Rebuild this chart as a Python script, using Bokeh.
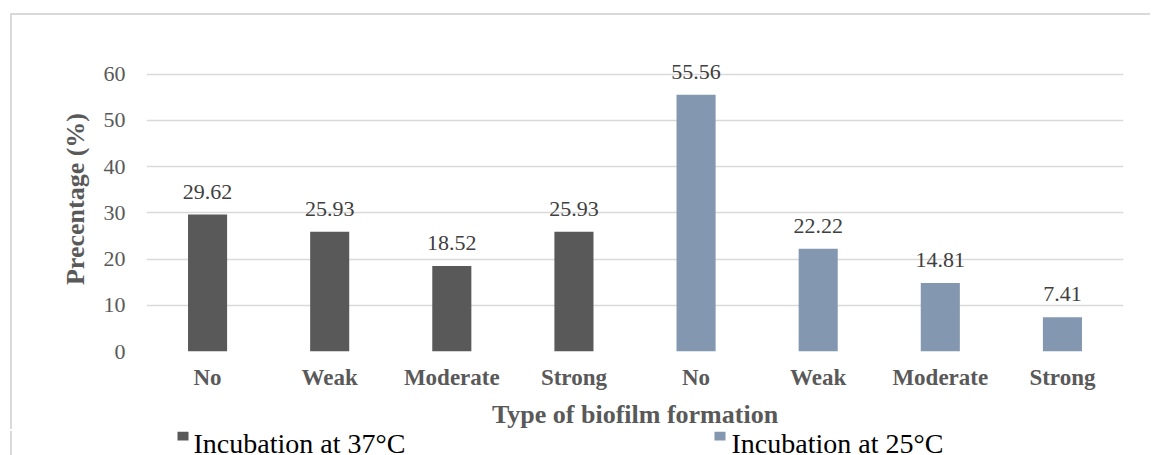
from bokeh.plotting import figure
from bokeh.layouts import column
from bokeh.models import Range1d, FixedTicker, ColumnDataSource
from bokeh.core.properties import value
from bokeh.embed import file_html
from bokeh.resources import INLINE

# ---- data ----
types = ["No", "Weak", "Moderate", "Strong"]
pct_37 = [29.62, 25.93, 18.52, 25.93]
pct_25 = [55.56, 22.22, 14.81, 7.41]
series_names = ["Incubation at 37\u00b0C", "Incubation at 25\u00b0C"]
y_ticks = [0, 10, 20, 30, 40, 50, 60]

C37 = "#595959"
C25 = "#8497b0"
FONT = "Liberation Serif"

# ---- layout constants (pixels) ----
W = 1140
H_MAIN = 416
H_LEG = 24
B_LEFT = 134
B_RIGHT = 29
FRAME_X0 = 146   # page x of the plot frame's left edge
FRAME_X1 = 1123  # page x of the plot frame's right edge
LEG_SQ_X = [182.5, 719.5]
LEG_TXT_X = [193, 731]

n = len(types)
x37 = [i + 0.5 for i in range(n)]
x25 = [n + i + 0.5 for i in range(n)]

p = figure(width=W, height=H_MAIN, output_backend="svg", toolbar_location=None,
           x_range=Range1d(0, 2 * n), y_range=Range1d(0, 66),
           min_border_left=B_LEFT, min_border_right=B_RIGHT, min_border_top=31, min_border_bottom=78)
p.margin = (15, 0, 0, 12)
p.styles = {"box-shadow": "-2px -2px 0 0 #d9d9d9"}
p.outline_line_color = None
p.background_fill_color = "white"
p.border_fill_color = "white"

src37 = ColumnDataSource(dict(x=x37, y=pct_37, lab=[f"{v:.2f}" for v in pct_37]))
src25 = ColumnDataSource(dict(x=x25, y=pct_25, lab=[f"{v:.2f}" for v in pct_25]))

p.vbar(x="x", top="y", width=0.32, bottom=0, source=src37, fill_color=C37, line_color=None)
p.vbar(x="x", top="y", width=0.32, bottom=0, source=src25, fill_color=C25, line_color=None)

for s in (src37, src25):
    p.text(x="x", y="y", text="lab", source=s, text_align="center", text_baseline="alphabetic",
           y_offset=-23, text_font=value(FONT), text_font_size="22px", text_color="#404040")

# axes
p.yaxis.ticker = FixedTicker(ticks=y_ticks)
p.yaxis.axis_line_color = None
p.yaxis.major_tick_line_color = None
p.yaxis.major_tick_out = 0
p.yaxis.major_tick_in = 0
p.yaxis.minor_tick_line_color = None
p.yaxis.major_label_text_font = FONT
p.yaxis.major_label_text_font_size = "22px"
p.yaxis.major_label_text_color = "#595959"
p.yaxis.major_label_standoff = 21
p.yaxis.axis_label = "Precentage (%)"
p.yaxis.axis_label_text_font = FONT
p.yaxis.axis_label_text_font_size = "26px"
p.yaxis.axis_label_text_font_style = "bold"
p.yaxis.axis_label_text_color = "#595959"
p.yaxis.axis_label_standoff = 11

xt = x37 + x25
p.xaxis.ticker = FixedTicker(ticks=xt)
p.xaxis.major_label_overrides = {t: lab for t, lab in zip(xt, types + types)}
p.xaxis.axis_line_color = None
p.xaxis.major_tick_line_color = None
p.xaxis.major_tick_out = 0
p.xaxis.major_tick_in = 0
p.xaxis.minor_tick_line_color = None
p.xaxis.major_label_text_font = FONT
p.xaxis.major_label_text_font_size = "23px"
p.xaxis.major_label_text_font_style = "bold"
p.xaxis.major_label_text_color = "#595959"
p.xaxis.major_label_standoff = 13
p.xaxis.axis_label = "Type of biofilm formation"
p.xaxis.axis_label_text_font = FONT
p.xaxis.axis_label_text_font_size = "26px"
p.xaxis.axis_label_text_font_style = "bold"
p.xaxis.axis_label_text_color = "#595959"
p.xaxis.axis_label_standoff = 7

p.xgrid.grid_line_color = None
p.ygrid.grid_line_color = "#d9d9d9"
p.ygrid.grid_line_width = 1.5

# ---- legend strip (small figure below the chart; frame aligned with the chart's frame) ----
leg = figure(width=W, height=H_LEG, output_backend="svg", toolbar_location=None,
             x_range=Range1d(FRAME_X0, FRAME_X1), y_range=Range1d(H_LEG, 0),
             min_border_left=B_LEFT, min_border_right=B_RIGHT, min_border_top=0, min_border_bottom=0,
             x_axis_location=None, y_axis_location=None)
leg.margin = (0, 0, 0, 12)
leg.styles = {"box-shadow": "-2px 0 0 0 #d9d9d9"}
leg.outline_line_color = None
leg.xgrid.visible = False
leg.ygrid.visible = False
leg.background_fill_color = "white"
leg.border_fill_color = "white"

leg_src = ColumnDataSource(dict(sx=LEG_SQ_X, tx=LEG_TXT_X, name=series_names, color=[C37, C25]))
leg.rect(x="sx", y=4.5, width=11, height=9, source=leg_src, fill_color="color", line_color=None)
leg.text(x="tx", y=12, text="name", source=leg_src, text_align="left", text_baseline="alphabetic",
         text_font=value(FONT), text_font_size="28px", text_color="#000000")

lay = column(p, leg, spacing=0)
open("out.html", "w").write(file_html(lay, INLINE))
